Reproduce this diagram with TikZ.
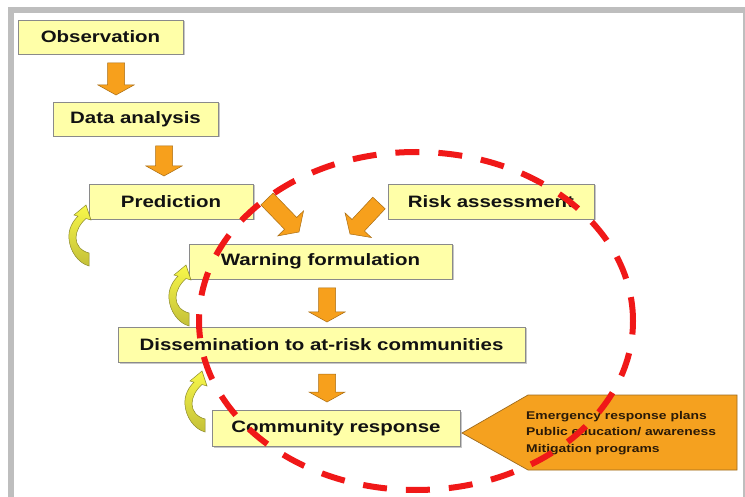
\documentclass[tikz,border=0pt]{standalone}
\usepackage{fontspec}
\newfontfamily\lab{Liberation Sans}[FakeStretch=1.24]
\usetikzlibrary{calc,shadows}
\definecolor{boxfill}{HTML}{FFFFA8}
\definecolor{boxline}{HTML}{8A8A8A}
\definecolor{arrfill}{HTML}{F7A01C}
\definecolor{arrline}{HTML}{A86C12}
\definecolor{dashred}{HTML}{F01818}
\definecolor{framegray}{HTML}{BEBEBE}
\definecolor{cyltop}{HTML}{F8F84A}
\definecolor{cylbot}{HTML}{C4C038}
\definecolor{cylline}{HTML}{8C8A2A}
\definecolor{calfill}{HTML}{F5A11F}
\definecolor{calline}{HTML}{9C6A1E}
\definecolor{caltext}{HTML}{2A1A08}
\tikzset{
  stagebox/.style={draw=boxline, line width=0.9pt, fill=boxfill,
    drop shadow={shadow xshift=1.5pt, shadow yshift=-1.5pt, fill=gray!55, opacity=0.8},
    font=\lab\bfseries\fontsize{16.5}{19}\selectfont, text=black!93, inner sep=0pt},
  blockarr/.style={fill=arrfill, draw=arrline, line width=0.5pt, line join=miter},
  curvarr/.style={top color=cyltop, bottom color=cylbot, draw=cylline, line width=0.5pt},
  calloutshape/.style={fill=calfill, draw=calline, line width=0.7pt},
  redring/.style={draw=dashred, line width=6pt, dash pattern=on 24pt off 19pt},
}
\newcommand\blockarrow[3]{%
  \coordinate (BAh) at ($(#2)!#3pt!(#1)$);
  \draw[blockarr] ($(#1)!8.5pt!90:(#2)$) -- ($(BAh)!8.5pt!90:(#2)$) -- ($(BAh)!18pt!90:(#2)$)
     -- (#2) -- ($(BAh)!18pt!-90:(#2)$) -- ($(BAh)!8.5pt!-90:(#2)$) -- ($(#1)!8.5pt!-90:(#2)$) -- cycle;}
\newcommand\curvedarrow[1]{%
  \begin{scope}[shift={(#1)}]
  \draw[curvarr] (0,0) .. controls (-11,-3) and (-19,-15) .. (-20,-27)
     .. controls (-21,-37) and (-16,-45) .. (-11,-49.8) -- (-15,-51) -- (-3,-61) -- (2,-46) -- (-3.1,-47.5)
     .. controls (-9,-42) and (-13,-35) .. (-13,-28) .. controls (-13,-21) and (-8,-15) .. (0,-13) -- cycle;
  \end{scope}}
\begin{document}
\begin{tikzpicture}[x=1pt,y=-1pt]
\useasboundingbox (0,0) rectangle (745,497);
\fill[white] (0,0) rectangle (745,497);
% frame
\fill[framegray] (8,7) rectangle (14,497);
\fill[framegray] (8,7) rectangle (744.5,13);
\fill[framegray] (742.5,7) rectangle (744.5,497);

% stage boxes
\node[stagebox, minimum width=165pt, minimum height=34pt] (obs) at (100.5,37) {Observation};
\node[stagebox, minimum width=165pt, minimum height=34pt] (data) at (135.5,119) {Data analysis};
\node[stagebox, minimum width=164pt, minimum height=35pt] (pred) at (171,201.5) {Prediction};
\node[stagebox, minimum width=206pt, minimum height=35pt] (risk) at (491,201.5) {Risk assessment};
\node[stagebox, minimum width=263pt, minimum height=35pt] (warn) at (320.5,261.5) {Warning formulation};
\node[stagebox, minimum width=407pt, minimum height=35pt] (diss) at (321.5,344.5) {Dissemination to at-risk communities};
\node[stagebox, minimum width=248pt, minimum height=36pt] (comm) at (336,428) {Community response};

% block arrows between stages
\coordinate (a1s) at (116,63);  \coordinate (a1e) at (116,95);
\coordinate (a2s) at (164,146); \coordinate (a2e) at (164,176);
\coordinate (a3s) at (327,288); \coordinate (a3e) at (327,322);
\coordinate (a4s) at (327,374); \coordinate (a4e) at (327,402);
\coordinate (d1s) at (267,199); \coordinate (d1e) at (299,232);
\coordinate (d2s) at (379,203); \coordinate (d2e) at (350,234);
\blockarrow{a1s}{a1e}{10}
\blockarrow{a2s}{a2e}{10}
\blockarrow{a3s}{a3e}{10}
\blockarrow{a4s}{a4e}{10}
\blockarrow{d1s}{d1e}{12}
\blockarrow{d2s}{d2e}{12}

% curved feedback arrows
\curvedarrow{89,266}
\curvedarrow{189,326}
\curvedarrow{205,432}

% callout
\coordinate (ct) at (462,433);
\draw[calloutshape] (ct) -- (528,395) -- (737,395) -- (737,470) -- (528,470) -- cycle;
\node[anchor=west, align=left, inner sep=0pt, text=caltext,
      font=\lab\bfseries\fontsize{11.2}{16.5}\selectfont] (ctext) at (526,433)
  {Emergency response plans\\Public education/ awareness\\Mitigation programs};

% red dashed ring
\draw[redring] (416,321) ellipse [x radius=217pt, y radius=169pt];
\end{tikzpicture}
\end{document}
